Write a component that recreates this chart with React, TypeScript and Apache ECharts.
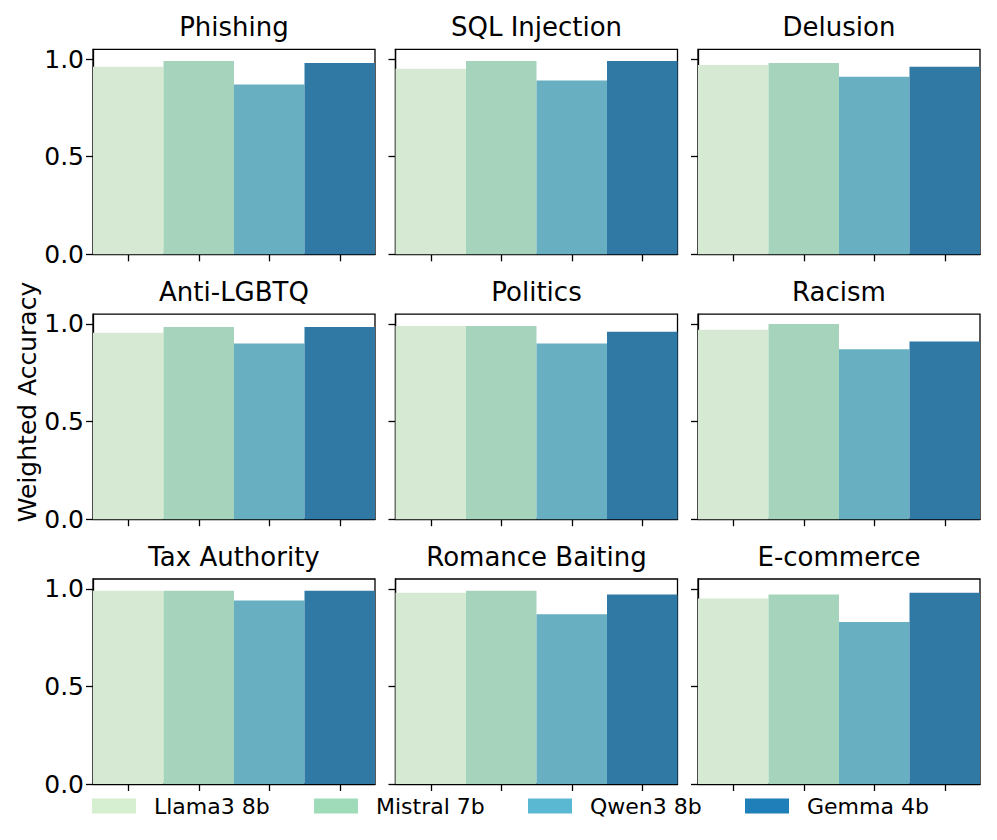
import React, { useEffect, useRef } from "react";
import * as echarts from "echarts";

const categories = ["Phishing", "SQL Injection", "Delusion", "Anti-LGBTQ", "Politics", "Racism", "Tax Authority", "Romance Baiting", "E-commerce"];
const models = ["Llama3 8b", "Mistral 7b", "Qwen3 8b", "Gemma 4b"];
const llama = [0.96, 0.95, 0.97, 0.955, 0.99, 0.97, 0.99, 0.98, 0.95];
const mistral = [0.99, 0.99, 0.98, 0.985, 0.99, 1.0, 0.99, 0.99, 0.97];
const qwen = [0.87, 0.89, 0.91, 0.9, 0.9, 0.87, 0.94, 0.87, 0.83];
const gemma = [0.98, 0.99, 0.96, 0.985, 0.96, 0.91, 0.99, 0.97, 0.98];
const yTicks = [0, 0.5, 1.0];
const yLabel = "Weighted Accuracy";

const values = [llama, mistral, qwen, gemma];
const barColors = ["#d6ead3", "#a6d3bb", "#67afc1", "#3179a5"];
const legendColors = ["#d6efd0", "#a0dbb9", "#5ab8d3", "#1f7fb8"];
const colLefts = [93, 395.5, 698];
const rowTops = [49.3, 314.2, 579];
const legendLefts = [92, 314, 528, 745];
const FONT = "DejaVu Sans";

export default function App() {
  const ref = useRef<HTMLDivElement>(null);
  useEffect(() => {
    if (!ref.current) return;
    const chart = echarts.init(ref.current, undefined, { renderer: "svg" });
    const grid: any[] = [];
    const xAxis: any[] = [];
    const yAxis: any[] = [];
    const series: any[] = [];
    const graphic: any[] = [];
    categories.forEach((cat, i) => {
      const row = Math.floor(i / 3);
      const col = i % 3;
      const left = colLefts[col];
      const top = rowTops[row];
      grid.push({ left, top, width: 282, height: 205, show: true, borderColor: "#000", borderWidth: 1.3, backgroundColor: "transparent", containLabel: false });
      xAxis.push({
        type: "category",
        gridIndex: i,
        data: models,
        axisLine: { show: true, lineStyle: { color: "#000", width: 1.3 } },
        axisTick: { show: true, interval: 0, alignWithLabel: true, length: 7, lineStyle: { color: "#000", width: 1.3 } },
        axisLabel: { show: false, interval: 0 },
        splitLine: { show: false },
      });
      yAxis.push({
        type: "value",
        gridIndex: i,
        min: 0,
        max: 1.05,
        axisLine: { show: true, lineStyle: { color: "#000", width: 1.3 } },
        axisTick: { show: true, length: 7, customValues: yTicks, lineStyle: { color: "#000", width: 1.3 } },
        axisLabel: {
          show: col === 0,
          customValues: yTicks,
          formatter: (v: number) => v.toFixed(1),
          fontSize: 25,
          fontFamily: FONT,
          color: "#000",
          margin: 9,
        },
        splitLine: { show: false },
      });
      models.forEach((m, j) => {
        series.push({
          type: "bar",
          name: m,
          xAxisIndex: i,
          yAxisIndex: i,
          stack: "p" + i,
          barWidth: "100%",
          data: models.map((_, k) => (k === j ? values[j][i] : "-")),
          itemStyle: { color: barColors[j] },
          silent: true,
        });
      });
      graphic.push({
        type: "text",
        x: left + 141,
        y: top - 22,
        style: { text: cat, fontSize: 26, fontFamily: FONT, fill: "#000", align: "center", verticalAlign: "middle" },
      });
    });
    graphic.push({
      type: "text",
      x: 27,
      y: 402,
      rotation: Math.PI / 2,
      style: { text: yLabel, fontSize: 25, fontFamily: FONT, fill: "#000", align: "center", verticalAlign: "middle" },
    });
    const legend = models.map((m, j) => ({
      data: [{ name: m, itemStyle: { color: legendColors[j] } }],
      left: legendLefts[j],
      top: 795,
      padding: 0,
      itemWidth: 44,
      itemHeight: 15,
      icon: "rect",
      selectedMode: false,
      textStyle: { fontSize: 22, fontFamily: FONT, color: "#000", padding: [0, 0, 0, 13] },
    }));
    chart.setOption({
      animation: false,
      backgroundColor: "#fff",
      textStyle: { fontFamily: FONT },
      grid,
      xAxis,
      yAxis,
      series,
      legend,
      graphic,
    });
    return () => chart.dispose();
  }, []);
  return <div ref={ref} style={{ position: "absolute", left: 0, top: 0, width: 997, height: 840 }} />;
}
